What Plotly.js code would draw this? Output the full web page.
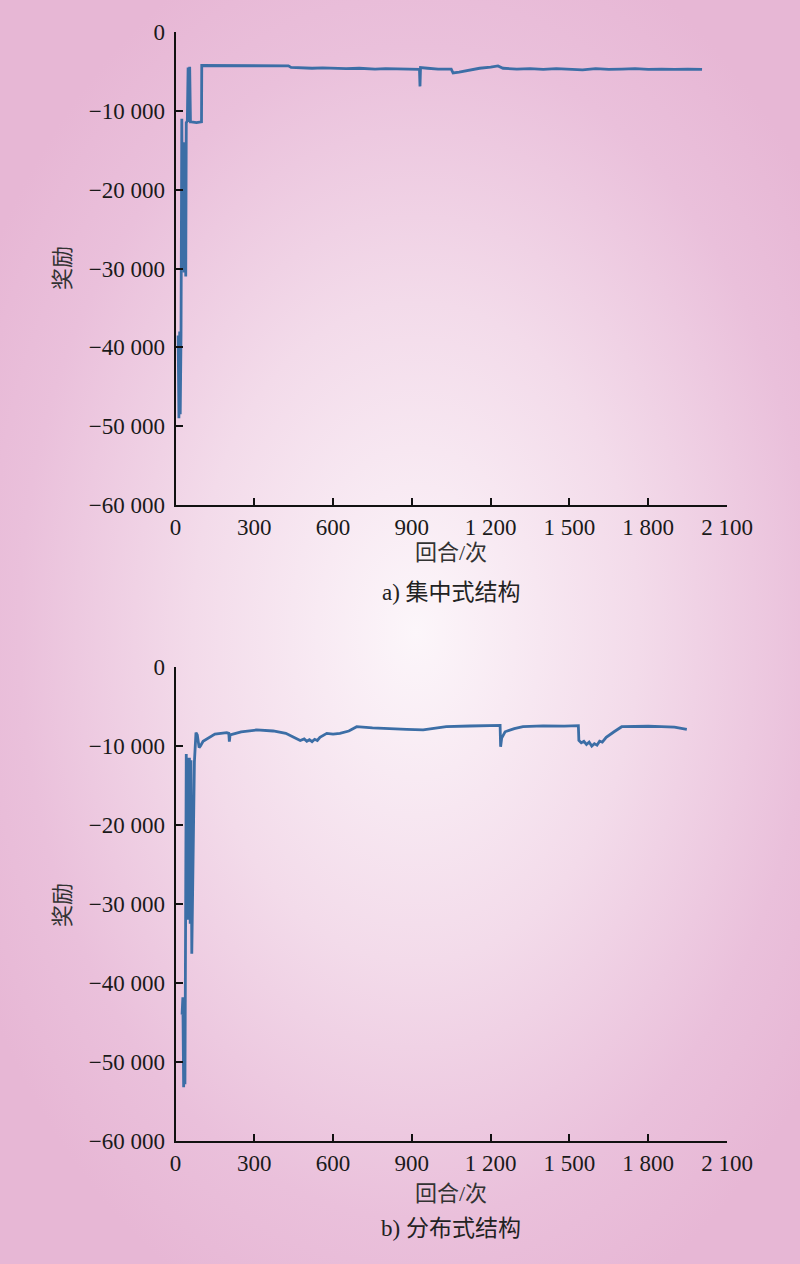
<!DOCTYPE html>
<html>
<head>
<meta charset="utf-8">
<script src="https://cdn.plot.ly/plotly-3.0.1.min.js"></script>
<style>
html,body{margin:0;padding:0;}
body{width:800px;height:1264px;overflow:hidden;
background:radial-gradient(ellipse 62% 58% at 52% 50%, #fcf6fa 0%, #f3dbea 45%, #eac0db 80%, #e7b7d5 100%);}
#chart{width:800px;height:1264px;}
</style>
</head>
<body>
<div id="chart"></div>
<script>
// ---- data: centralized structure (a) ----
const episodesA = [10, 13, 16, 18, 21, 24, 27, 30, 33, 36, 39, 41, 45, 48, 51, 54, 57, 60, 80, 99, 100, 200, 300, 430, 440, 470, 520, 560, 600, 650, 700, 760, 800, 850, 900, 929, 931, 933, 960, 1000, 1050, 1057, 1080, 1107, 1158, 1200, 1228, 1247, 1300, 1350, 1400, 1450, 1500, 1550, 1600, 1650, 1700, 1750, 1800, 1850, 1900, 1950, 2005];
const rewardA   = [-38500, -49000, -38000, -48500, -38500, -11000, -30000, -14000, -30500, -15000, -31000, -11500, -11300, -4500, -11400, -4400, -11400, -11400, -11500, -11400, -4250, -4250, -4280, -4300, -4500, -4550, -4600, -4550, -4600, -4650, -4600, -4700, -4650, -4700, -4720, -4730, -6900, -4520, -4600, -4700, -4720, -5200, -5100, -4900, -4600, -4450, -4310, -4600, -4700, -4650, -4750, -4650, -4700, -4800, -4650, -4750, -4700, -4650, -4750, -4700, -4750, -4700, -4750];

// ---- data: distributed structure (b) ----
const episodesB = [25, 28, 31, 34, 36, 39, 41, 44, 47, 50, 53, 56, 59, 62, 66, 72, 78, 83, 90, 95, 105, 124, 150, 195, 203, 205, 208, 250, 309, 372, 420, 450, 465, 475, 490, 500, 510, 520, 530, 540, 550, 560, 576, 600, 626, 660, 690, 750, 817, 880, 943, 990, 1031, 1121, 1236, 1238, 1242, 1255, 1290, 1323, 1400, 1480, 1534, 1536, 1545, 1555, 1565, 1575, 1585, 1595, 1605, 1615, 1625, 1640, 1650, 1670, 1699, 1750, 1800, 1850, 1900, 1947];
const rewardB   = [-44000, -41800, -53200, -42000, -52800, -32000, -11000, -32000, -11500, -32000, -11500, -32500, -11800, -36300, -25000, -12000, -8300, -8600, -10200, -10000, -9400, -9000, -8500, -8300, -8400, -9450, -8600, -8200, -7970, -8100, -8400, -8900, -9100, -9300, -9100, -9400, -9200, -9450, -9150, -9300, -8900, -8700, -8400, -8500, -8400, -8100, -7550, -7700, -7850, -7900, -7970, -7700, -7550, -7470, -7400, -10100, -9000, -8200, -7800, -7560, -7450, -7480, -7430, -9300, -9600, -9400, -9800, -9500, -10000, -9700, -9900, -9400, -9500, -8900, -8700, -8200, -7560, -7500, -7500, -7550, -7600, -7890];

// ---- axis ticks ----
const xTickVals = [0, 300, 600, 900, 1200, 1500, 1800, 2100];
const xTickText = ['0', '300', '600', '900', '1 200', '1 500', '1 800', '2 100'];
const yTickVals = [0, -10000, -20000, -30000, -40000, -50000, -60000];
const yTickText = ['0', '\u221210 000', '\u221220 000', '\u221230 000', '\u221240 000', '\u221250 000', '\u221260 000'];

const xTitle = '回合/次';
const yTitle = '奖励';
const captions = ['a) 集中式结构', 'b) 分布式结构'];

const lineColor = '#3c6ea6';
const W = 800, H = 1264;
const xDom = [175.5 / W, 727 / W];
const yDomA = [1 - 505 / H, 1 - 32 / H];
const yDomB = [1 - 1141 / H, 1 - 667 / H];

const tickFont = {family: 'Liberation Serif, Times New Roman, serif', size: 23, color: '#1a1a1a'};
const cjkFont = {family: 'Liberation Serif, Noto Sans CJK SC, serif', size: 22, color: '#333'};
const capFont = {family: 'Liberation Serif, Noto Sans CJK SC, serif', size: 23, color: '#222'};

function xAxis(anchor) {
  return {domain: xDom, anchor: anchor, range: [0, 2100], tickvals: xTickVals, ticktext: xTickText,
    showline: true, linecolor: '#111', linewidth: 2, ticks: 'inside', ticklen: 7, tickwidth: 2, tickcolor: '#111',
    showgrid: false, zeroline: false, tickfont: tickFont, fixedrange: true};
}
function yAxis(anchor, dom) {
  return {domain: dom, anchor: anchor, range: [-60000, 0], tickvals: yTickVals, ticktext: yTickText,
    showline: true, linecolor: '#111', linewidth: 2, ticks: 'inside', ticklen: 7, tickwidth: 2, tickcolor: '#111',
    ticklabelstandoff: 4,
    showgrid: false, zeroline: false, tickfont: tickFont, fixedrange: true};
}

const traces = [
  {x: episodesA, y: rewardA, type: 'scatter', mode: 'lines', xaxis: 'x', yaxis: 'y',
   line: {color: lineColor, width: 2.8}, hoverinfo: 'skip'},
  {x: episodesB, y: rewardB, type: 'scatter', mode: 'lines', xaxis: 'x2', yaxis: 'y2',
   line: {color: lineColor, width: 2.8}, hoverinfo: 'skip'}
];

const xc = (xDom[0] + xDom[1]) / 2;
function ann(text, x, yPx, angle, font) {
  return {text: text, xref: 'paper', yref: 'paper', x: x, y: 1 - yPx / H, xanchor: 'center', yanchor: 'middle',
    showarrow: false, textangle: angle || 0, font: font};
}

const layout = {
  width: W, height: H, margin: {l: 0, r: 0, t: 0, b: 0},
  paper_bgcolor: 'rgba(0,0,0,0)', plot_bgcolor: 'rgba(0,0,0,0)',
  showlegend: false,
  xaxis: xAxis('y'), yaxis: yAxis('x', yDomA),
  xaxis2: xAxis('y2'), yaxis2: yAxis('x2', yDomB),
  annotations: [
    ann(xTitle, xc, 552, 0, cjkFont),
    ann(captions[0], xc, 593, 0, capFont),
    ann(yTitle, 62 / W, 268, -90, cjkFont),
    ann(xTitle, xc, 1193, 0, cjkFont),
    ann(captions[1], xc, 1228, 0, capFont),
    ann(yTitle, 62 / W, 905, -90, cjkFont)
  ]
};

Plotly.newPlot('chart', traces, layout, {staticPlot: true, displayModeBar: false});
</script>
</body>
</html>
